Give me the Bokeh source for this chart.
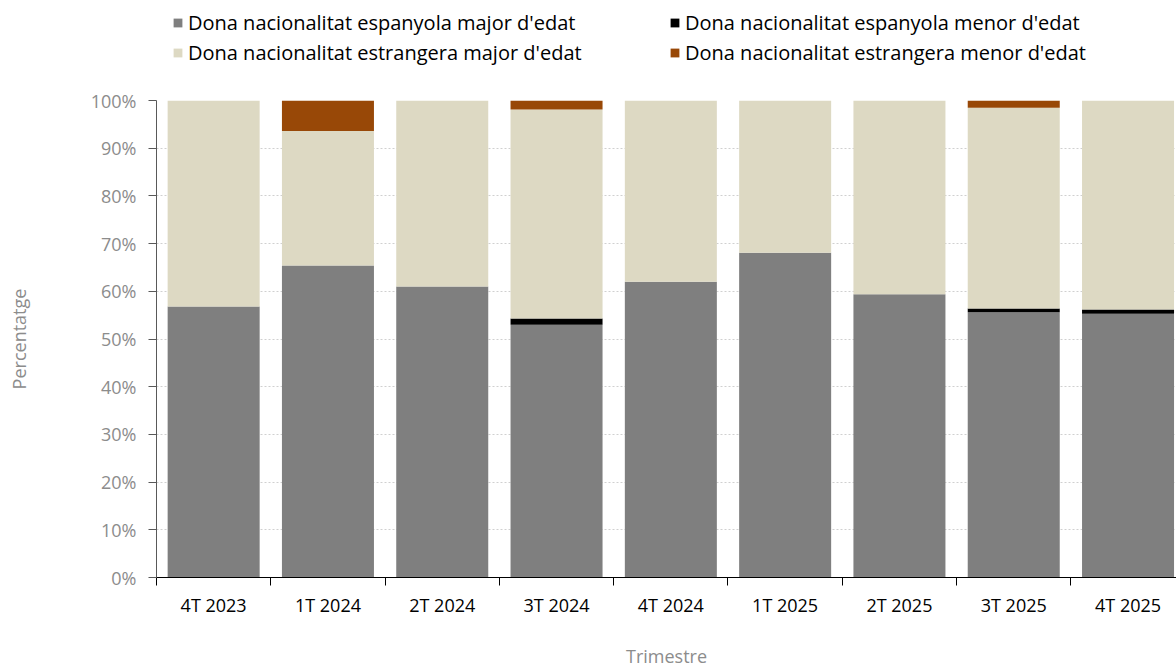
from bokeh.plotting import figure
from bokeh.layouts import column
from bokeh.models import (ColumnDataSource, Range1d, FixedTicker, Legend, LegendItem)
from bokeh.embed import file_html
from bokeh.resources import INLINE

categories = ["4T 2023", "1T 2024", "2T 2024", "3T 2024", "4T 2024",
              "1T 2025", "2T 2025", "3T 2025", "4T 2025"]
esp_major = [56.8, 65.4, 61.0, 53.0, 62.0, 68.1, 59.4, 55.6, 55.3]
esp_menor = [0.0, 0.0, 0.0, 1.3, 0.0, 0.0, 0.0, 0.8, 0.9]
est_major = [43.2, 28.2, 39.0, 43.8, 38.0, 31.9, 40.6, 42.1, 43.8]
est_menor = [0.0, 6.4, 0.0, 1.9, 0.0, 0.0, 0.0, 1.5, 0.0]
series_names = ["Dona nacionalitat espanyola major d'edat",
                "Dona nacionalitat espanyola menor d'edat",
                "Dona nacionalitat estrangera major d'edat",
                "Dona nacionalitat estrangera menor d'edat"]
colors = ["#7f7f7f", "#000000", "#ddd9c3", "#984807"]
y_ticks = [0, 10, 20, 30, 40, 50, 60, 70, 80, 90, 100]

FONT = "Open Sans"
n = len(categories)
xs = [i + 0.5 for i in range(n)]
src = ColumnDataSource(dict(x=xs, a=esp_major, b=esp_menor, c=est_major, d=est_menor))

# ---------------- main chart ----------------
p = figure(width=1176, height=582, output_backend="svg", toolbar_location=None,
           x_range=Range1d(0, 8.924), y_range=Range1d(0, 100))
p.min_border_left = 156
p.min_border_right = 0
p.min_border_top = 12
p.min_border_bottom = 93
p.outline_line_color = None
p.background_fill_color = "white"

rends = p.vbar_stack(["a", "b", "c", "d"], x="x", width=0.805, source=src,
                     color=colors, line_color=None)

xax = p.xaxis[0]
xax.ticker = FixedTicker(ticks=xs, minor_ticks=list(range(n + 1)))
xax.major_label_overrides = {x: c for x, c in zip(xs, categories)}
xax.major_tick_line_color = None
xax.major_tick_out = 0
xax.major_tick_in = 0
xax.minor_tick_line_color = "#000000"
xax.minor_tick_out = 8
xax.minor_tick_in = 0
xax.axis_line_color = "#000000"
xax.major_label_text_font = FONT
xax.major_label_text_font_size = "18px"
xax.major_label_text_color = "#000000"
xax.major_label_standoff = 7
xax.axis_label = "Trimestre"
xax.axis_label_text_font = FONT
xax.axis_label_text_font_style = "normal"
xax.axis_label_text_font_size = "18px"
xax.axis_label_text_color = "#8c8c8c"
xax.axis_label_standoff = 24

yax = p.yaxis[0]
yax.ticker = FixedTicker(ticks=y_ticks, minor_ticks=[])
yax.major_label_overrides = {t: f"{t}%" for t in y_ticks}
yax.axis_line_color = "#595959"
yax.major_tick_line_color = "#595959"
yax.major_tick_out = 8
yax.major_tick_in = 0
yax.major_label_text_font = FONT
yax.major_label_text_font_size = "18px"
yax.major_label_text_color = "#8c8c8c"
yax.major_label_standoff = 12
yax.axis_label = "Percentatge"
yax.axis_label_text_font = FONT
yax.axis_label_text_font_style = "normal"
yax.axis_label_text_font_size = "18px"
yax.axis_label_text_color = "#8c8c8c"
yax.axis_label_standoff = 57

p.xgrid.grid_line_color = None
p.ygrid.ticker = FixedTicker(ticks=y_ticks)
p.ygrid.grid_line_color = "#d0d0d0"
p.ygrid.grid_line_dash = "2 2"
p.ygrid.grid_line_width = 1

# ---------------- legend strip above the chart ----------------
# the strip's x range lies far from the data, so its bars only serve as legend keys
lg = figure(width=1176, height=88, output_backend="svg", toolbar_location=None,
            x_axis_location=None, y_axis_location=None,
            x_range=Range1d(-50, -49), y_range=Range1d(0, 1))
lg.min_border_left = 0
lg.min_border_right = 0
lg.min_border_top = 0
lg.min_border_bottom = 0
lg.outline_line_color = None
lg.xgrid.grid_line_color = None
lg.ygrid.grid_line_color = None
keys = [lg.vbar(x="x", top=col, width=0.805, source=src, color=c, line_color=None)
        for col, c in zip(["a", "b", "c", "d"], colors)]
items = [LegendItem(label=series_names[i], renderers=[keys[i]]) for i in range(4)]
legend = Legend(items=items, location=(16, 22), orientation="horizontal", nrows=2,
                label_text_font=FONT, label_text_font_size="20px",
                label_text_color="#000000", glyph_width=11, glyph_height=11,
                label_width=478, label_height=20, spacing=3, padding=0, margin=0,
                label_standoff=5, background_fill_alpha=0, border_line_color=None)
lg.add_layout(legend, "center")

open("out.html", "w").write(file_html(column(lg, p, spacing=0), INLINE))
